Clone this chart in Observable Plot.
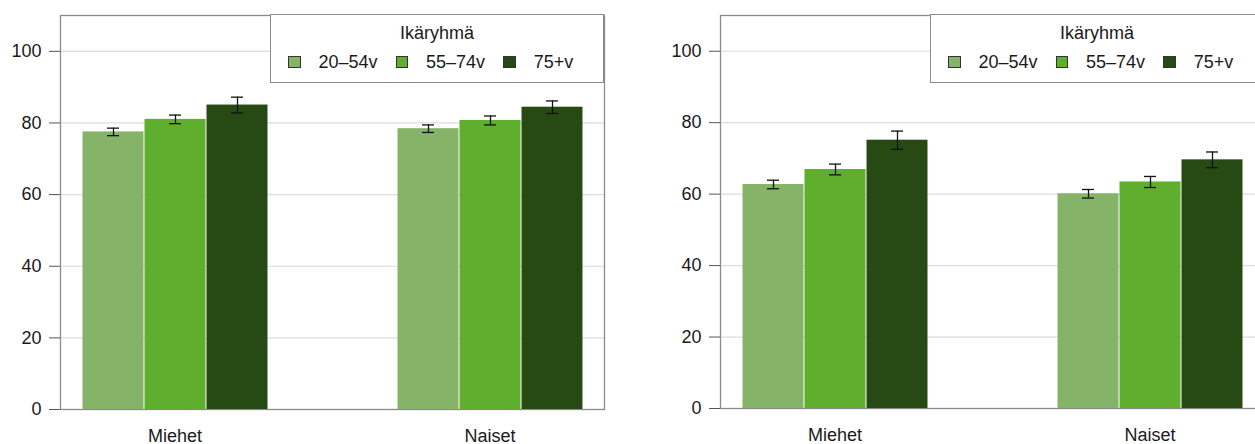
<!DOCTYPE html>
<html>
<head>
<meta charset="utf-8">
<script src="https://cdn.jsdelivr.net/npm/d3@7"></script>
<script src="https://cdn.jsdelivr.net/npm/@observablehq/plot@0.6"></script>
<style>
  html, body { margin: 0; padding: 0; background: #fff; overflow: hidden; width: 1255px; height: 444px; }
  .panel { position: absolute; top: 0; width: 620px; height: 444px; }
  .layer { position: absolute; left: 0; top: 0; }
  .legend { position: absolute; left: 270px; top: 14px; width: 334px; height: 69px; box-sizing: border-box;
            border: 1.3px solid #8a8a8a; background: #fff; font-family: "Liberation Sans", Arial, sans-serif;
            color: #1a1a1a; font-size: 18px; }
  .legend .title { position: absolute; left: 0; right: 0; top: 8px; line-height: 20px; text-align: center; }
  .legend .items { position: absolute; left: 17px; top: 36px; height: 22px; display: flex; align-items: center; white-space: nowrap; }
  .legend .sw { width: 10.5px; height: 10.5px; border: 1px solid #333; margin-right: 18px; }
  .legend .lab { margin-right: 18px; line-height: 22px; }
</style>
</head>
<body>
<div id="root"></div>
<script>
// ---- data ----
const sexes = ["Miehet", "Naiset"];
const ageGroups = ["20–54v", "55–74v", "75+v"];
const ageColors = ["#85B368", "#5FAE2E", "#274A14"];
const yTicks = [0, 20, 40, 60, 80, 100];
const legendTitle = "Ikäryhmä";

// left panel
const leftMiehet = [77.5, 81.0, 85.0];
const leftMiehetErr = [1.05, 1.2, 2.2];
const leftNaiset = [78.4, 80.7, 84.4];
const leftNaisetErr = [1.05, 1.25, 1.75];

// right panel
const rightMiehet = [62.7, 66.9, 75.1];
const rightMiehetErr = [1.2, 1.5, 2.55];
const rightNaiset = [60.1, 63.4, 69.6];
const rightNaisetErr = [1.2, 1.55, 2.2];

function buildTable(m, mErr, n, nErr) {
  const vals = [m, n], errs = [mErr, nErr];
  return sexes.flatMap((s, i) => ageGroups.map((a, j) => ({
    sex: s, age: a, value: vals[i][j], lo: vals[i][j] - errs[i][j], hi: vals[i][j] + errs[i][j]
  })));
}

const font = { fontFamily: "'Liberation Sans', Arial, sans-serif", fontSize: "18px", color: "#1a1a1a", background: "transparent", overflow: "visible" };

function makePanel(left, data, marginBottom) {
  const dims = { width: 620, height: 444, marginLeft: 60, marginRight: 16, marginTop: 15, marginBottom };
  const panel = document.createElement("div");
  panel.className = "panel";
  panel.style.left = left + "px";

  const bg = Plot.plot({
    ...dims,
    style: font,
    y: { domain: [0, 110] },
    marks: [
      Plot.gridY(yTicks, { stroke: "#dcdcdc", strokeOpacity: 1, strokeWidth: 1.2 }),
      Plot.axisY(yTicks, { tickSize: 11, tickPadding: 8, label: null, fontSize: 18, stroke: "#555" }),
      Plot.frame({ stroke: "#8a8a8a", strokeWidth: 1.3 })
    ]
  });
  bg.classList.add("layer");

  const fg = Plot.plot({
    ...dims,
    style: font,
    y: { domain: [0, 110], axis: null },
    x: { domain: ageGroups, padding: 0, axis: null },
    fx: { domain: sexes, paddingInner: 0.405, paddingOuter: 0.0645, label: null },
    color: { domain: ageGroups, range: ageColors },
    marks: [
      Plot.barY(data, { fx: "sex", x: "age", y: "value", fill: "age", insetLeft: 0.5, insetRight: 0.5 }),
      Plot.ruleX(data, { fx: "sex", x: "age", y1: "lo", y2: "hi", stroke: "#111", strokeWidth: 1.3 }),
      Plot.tickY(data, { fx: "sex", x: "age", y: "lo", stroke: "#111", strokeWidth: 1.3, insetLeft: 25, insetRight: 25 }),
      Plot.tickY(data, { fx: "sex", x: "age", y: "hi", stroke: "#111", strokeWidth: 1.3, insetLeft: 25, insetRight: 25 }),
      Plot.axisFx({ anchor: "bottom", tickSize: 0, tickPadding: 20, label: null, fontSize: 18 })
    ]
  });
  fg.classList.add("layer");

  const legend = document.createElement("div");
  legend.className = "legend";
  const title = document.createElement("div");
  title.className = "title";
  title.textContent = legendTitle;
  legend.appendChild(title);
  const items = document.createElement("div");
  items.className = "items";
  ageGroups.forEach((g, i) => {
    const sw = document.createElement("span");
    sw.className = "sw";
    sw.style.background = ageColors[i];
    const lab = document.createElement("span");
    lab.className = "lab";
    lab.textContent = g;
    items.appendChild(sw);
    items.appendChild(lab);
  });
  legend.appendChild(items);

  panel.appendChild(bg);
  panel.appendChild(fg);
  panel.appendChild(legend);
  document.getElementById("root").appendChild(panel);
}

makePanel(0, buildTable(leftMiehet, leftMiehetErr, leftNaiset, leftNaisetErr), 35);
makePanel(660, buildTable(rightMiehet, rightMiehetErr, rightNaiset, rightNaisetErr), 36);
</script>
</body>
</html>
